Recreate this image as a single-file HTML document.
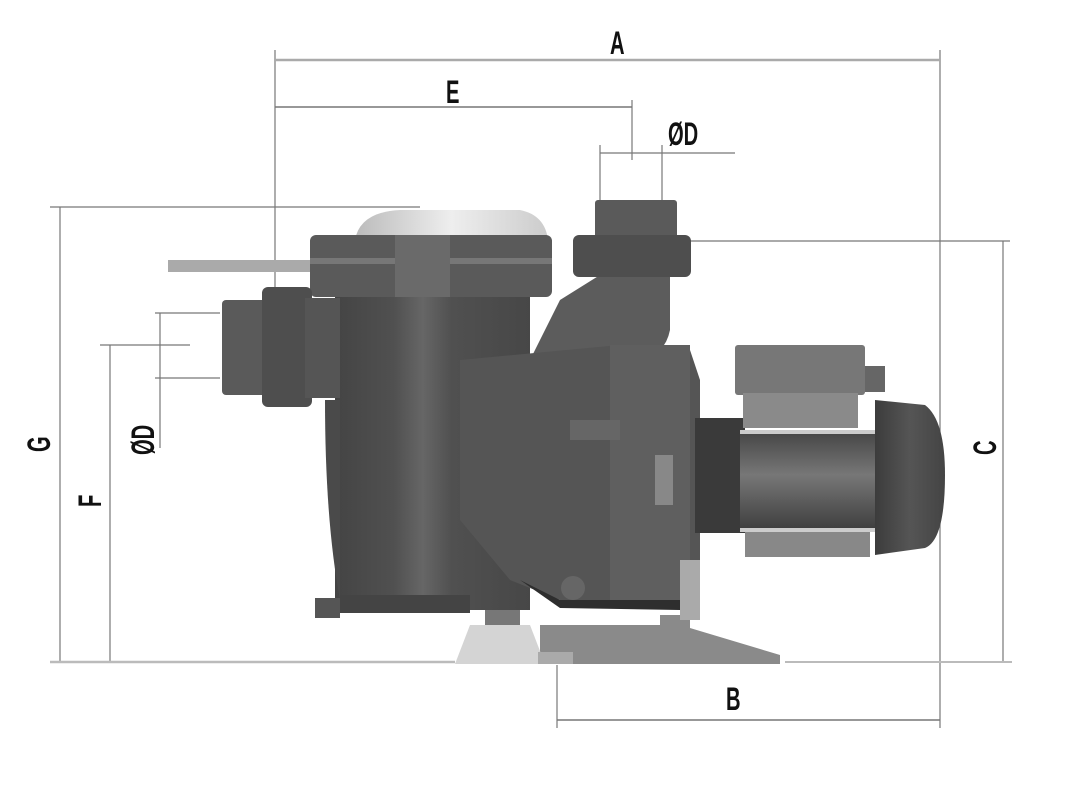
<!DOCTYPE html>
<html><head><meta charset="utf-8"><style>
html,body{margin:0;padding:0;background:#fff;width:1081px;height:800px;overflow:hidden}
svg{display:block}
text{font-family:"Liberation Sans",sans-serif;font-weight:bold;fill:#111}
</style></head><body>
<svg width="1081" height="800" viewBox="0 0 1081 800" xmlns="http://www.w3.org/2000/svg">
<defs>
<linearGradient id="body" x1="0" x2="1"><stop offset="0" stop-color="#444"/><stop offset="0.3" stop-color="#505050"/><stop offset="0.45" stop-color="#666"/><stop offset="0.6" stop-color="#505050"/><stop offset="1" stop-color="#474747"/></linearGradient>
<linearGradient id="lid" x1="0" x2="1"><stop offset="0" stop-color="#bbb"/><stop offset="0.5" stop-color="#eee"/><stop offset="1" stop-color="#ccc"/></linearGradient>
<linearGradient id="motor" x1="0" y1="0" x2="0" y2="1"><stop offset="0" stop-color="#444"/><stop offset="0.45" stop-color="#777"/><stop offset="1" stop-color="#3e3e3e"/></linearGradient>
<linearGradient id="cap" x1="0" x2="1"><stop offset="0" stop-color="#3c3c3c"/><stop offset="0.5" stop-color="#555"/><stop offset="1" stop-color="#444"/></linearGradient>
</defs>
<g stroke="#777" stroke-width="1.2" fill="none">
<line x1="275" y1="50" x2="275" y2="400"/>
<line x1="940" y1="50" x2="940" y2="728"/>
<line x1="275" y1="60" x2="940" y2="60" stroke-width="2.5" stroke="#aaa"/>
<line x1="275" y1="107" x2="632" y2="107" stroke-width="1.5"/>
<line x1="632" y1="100" x2="632" y2="160"/>
<line x1="600" y1="145" x2="600" y2="200"/>
<line x1="662" y1="145" x2="662" y2="200"/>
<line x1="600" y1="153" x2="735" y2="153"/>
<line x1="50" y1="207" x2="420" y2="207"/>
<line x1="60" y1="207" x2="60" y2="662"/>
<line x1="100" y1="345" x2="190" y2="345"/>
<line x1="110" y1="345" x2="110" y2="662"/>
<line x1="155" y1="313" x2="220" y2="313"/>
<line x1="155" y1="378" x2="220" y2="378"/>
<line x1="160" y1="313" x2="160" y2="448"/>
<line x1="690" y1="241" x2="1010" y2="241"/>
<line x1="1003" y1="241" x2="1003" y2="662"/>
<line x1="50" y1="662" x2="455" y2="662" stroke-width="2.5" stroke="#bbb"/>
<line x1="785" y1="662" x2="1012" y2="662" stroke-width="2" stroke="#bbb"/>
<line x1="557" y1="665" x2="557" y2="728"/>
<line x1="557" y1="720" x2="940" y2="720" stroke-width="1.5"/>
</g>
<g font-size="28">
<text transform="translate(610,54) scale(0.72,1.15)">A</text>
<text transform="translate(446,103) scale(0.72,1.15)">E</text>
<text transform="translate(668,145) scale(0.72,1.15)">ØD</text>
<text transform="translate(726,710) scale(0.72,1.15)">B</text>
<text transform="translate(50,452) rotate(-90) scale(0.72,1.15)">G</text>
<text transform="translate(101,507) rotate(-90) scale(0.72,1.15)">F</text>
<text transform="translate(154,455) rotate(-90) scale(0.72,1.15)">ØD</text>
<text transform="translate(996,455) rotate(-90) scale(0.72,1.15)">C</text>
</g>
<polygon points="540,625 660,625 660,615 690,615 690,628 780,655 780,664 540,664" fill="#8a8a8a"/>
<polygon points="470,625 530,625 545,664 455,664" fill="#d4d4d4"/>
<rect x="538" y="652" width="35" height="12" fill="#aaa"/>
<rect x="485" y="607" width="35" height="18" fill="#777"/>
<rect x="168" y="260" width="150" height="12" fill="#aaa"/>
<path d="M355,240 Q360,212 400,210 L520,210 Q545,215 548,240 Z" fill="url(#lid)"/>
<rect x="335" y="295" width="195" height="315" fill="url(#body)"/>
<path d="M325,400 L340,400 L340,600 Q325,520 325,400Z" fill="#4a4a4a"/>
<rect x="315" y="598" width="25" height="20" fill="#555"/>
<rect x="340" y="595" width="130" height="18" fill="#444"/>
<rect x="310" y="235" width="242" height="62" rx="6" fill="#5a5a5a"/>
<rect x="310" y="258" width="242" height="6" fill="#777"/>
<rect x="395" y="235" width="55" height="62" fill="#6a6a6a"/>
<rect x="222" y="300" width="50" height="95" rx="4" fill="#5a5a5a"/>
<rect x="262" y="287" width="50" height="120" rx="6" fill="#4e4e4e"/>
<rect x="305" y="298" width="35" height="100" fill="#555"/>
<path d="M560,300 L600,275 L670,275 L670,330 Q665,355 640,360 L560,370 L530,360 Z" fill="#5c5c5c"/>
<rect x="595" y="200" width="82" height="45" rx="3" fill="#5a5a5a"/>
<rect x="573" y="235" width="118" height="42" rx="6" fill="#4e4e4e"/>
<path d="M460,360 L620,345 L690,350 L700,380 L700,570 L680,600 L560,600 L510,580 L460,520 Z" fill="#555"/>
<rect x="610" y="345" width="80" height="255" fill="#5f5f5f"/>
<rect x="655" y="455" width="18" height="50" fill="#888"/>
<rect x="570" y="420" width="50" height="20" fill="#666"/>
<path d="M520,580 L560,600 L680,600 L680,610 L560,608 Z" fill="#2e2e2e"/>
<circle cx="573" cy="588" r="12" fill="#666"/>
<rect x="680" y="560" width="20" height="60" fill="#aaa"/>
<rect x="695" y="418" width="50" height="115" fill="#3a3a3a"/>
<rect x="740" y="430" width="140" height="100" fill="url(#motor)"/>
<rect x="740" y="430" width="140" height="4" fill="#ccc"/>
<rect x="740" y="528" width="140" height="4" fill="#ccc"/>
<rect x="745" y="532" width="125" height="25" fill="#888"/>
<rect x="735" y="345" width="130" height="50" rx="3" fill="#777"/>
<rect x="743" y="393" width="115" height="35" fill="#8a8a8a"/>
<rect x="865" y="366" width="20" height="26" fill="#666"/>
<path d="M875,400 L925,405 Q945,420 945,475 Q945,540 925,548 L875,555 Z" fill="url(#cap)"/>
</svg>
</body></html>
